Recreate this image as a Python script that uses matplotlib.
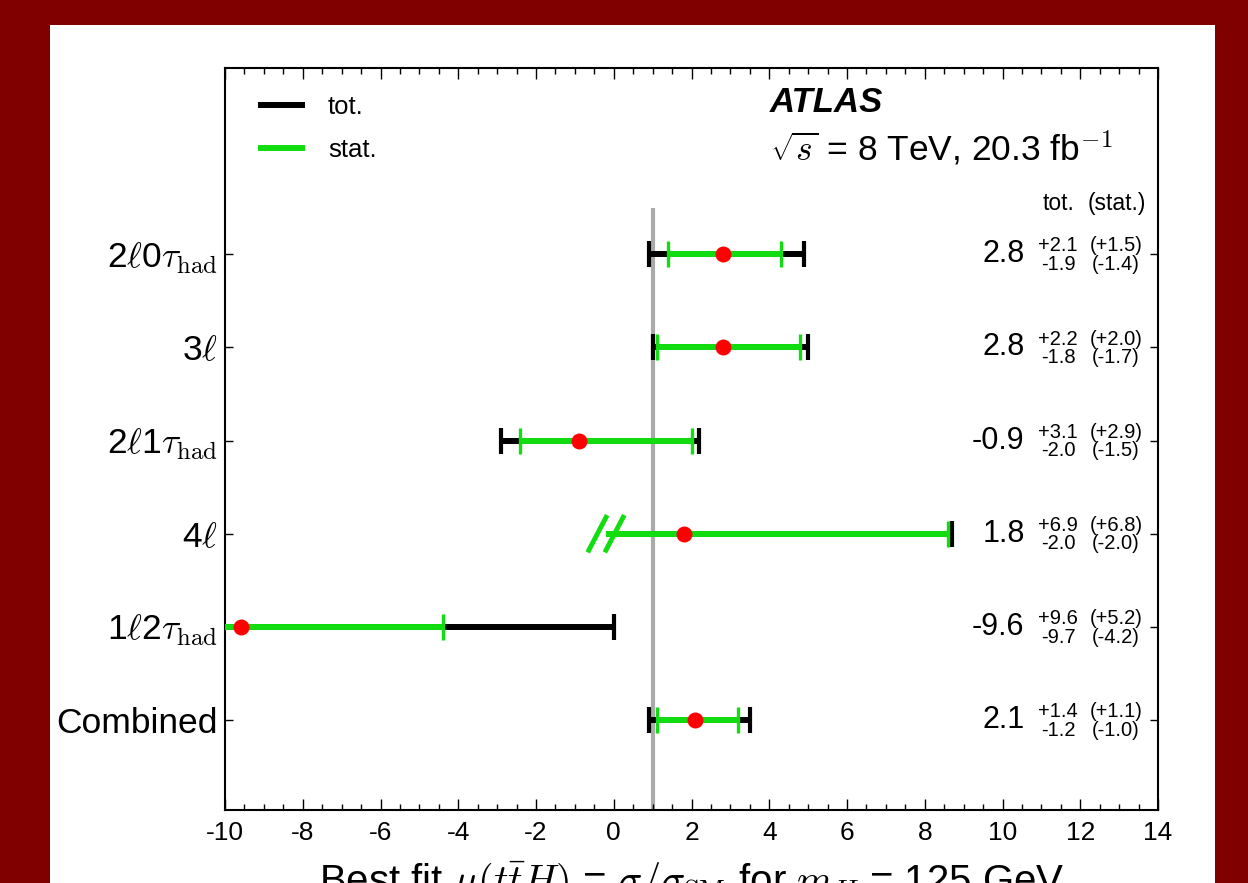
import matplotlib
matplotlib.use("Agg")
import matplotlib.pyplot as plt
from matplotlib.lines import Line2D
from matplotlib.patches import Rectangle
import matplotlib.transforms as mtransforms

plt.rcParams["font.family"] = ["Liberation Sans", "DejaVu Sans"]
plt.rcParams["mathtext.fontset"] = "cm"
plt.rcParams["axes.unicode_minus"] = False

# channels, top to bottom
labels = [r"2$\ell$0$\tau_{\rm had}$", r"3$\ell$", r"2$\ell$1$\tau_{\rm had}$",
          r"4$\ell$", r"1$\ell$2$\tau_{\rm had}$", "Combined"]
mu = [2.8, 2.8, -0.9, 1.8, -9.6, 2.1]
tot_up = [2.1, 2.2, 3.1, 6.9, 9.6, 1.4]
tot_dn = [1.9, 1.8, 2.0, 2.0, 9.7, 1.2]
stat_up = [1.5, 2.0, 2.9, 6.8, 5.2, 1.1]
stat_dn = [1.4, 1.7, 1.5, 2.0, 4.2, 1.0]
truncated_low = [False, False, False, True, False, False]
sm_value = 1.0

GREEN = "#11DD11"
RED = "#FF0000"

fig = plt.figure(figsize=(12.48, 8.83), dpi=100, facecolor="#800000")
fig.patches.append(Rectangle((50 / 1248, 0), 1165 / 1248, 858 / 883,
                             transform=fig.transFigure, facecolor="white",
                             edgecolor="none", zorder=-10))
ax = fig.add_axes([225 / 1248, 1 - 810 / 883, 933 / 1248, 742 / 883])
ax.set_zorder(1)

n = len(labels)
ypos = [n - i for i in range(n)]
cap = 0.14

ax.vlines(sm_value, 0, n + 0.5, color="#AAAAAA", lw=3, zorder=1)

tr = mtransforms.blended_transform_factory(ax.transAxes, ax.transData)
for i in range(n):
    y = ypos[i]
    tlo, thi = mu[i] - tot_dn[i], mu[i] + tot_up[i]
    slo, shi = mu[i] - stat_dn[i], mu[i] + stat_up[i]
    ax.hlines(y, tlo, thi, color="black", lw=4.3, zorder=2)
    ax.vlines(thi, y - cap, y + cap, color="black", lw=3, zorder=2)
    if not truncated_low[i]:
        ax.vlines(tlo, y - cap, y + cap, color="black", lw=3, zorder=2)
    ax.hlines(y, slo, shi, color=GREEN, lw=4.3, zorder=3)
    ax.vlines(shi, y - cap, y + cap, color=GREEN, lw=2.4, zorder=3)
    if truncated_low[i]:
        for off in (-0.22, 0.22):
            ax.plot([slo + off - 0.25, slo + off + 0.25], [y - 0.2, y + 0.2],
                    color=GREEN, lw=3.5, solid_capstyle="butt", zorder=3)
    else:
        ax.vlines(slo, y - cap, y + cap, color=GREEN, lw=2.4, zorder=3)
    ax.plot(mu[i], y, "o", color=RED, ms=11.5, mec="none", zorder=4)

    ax.text(0.857, y, f"{mu[i]:.1f}", transform=tr, ha="right", va="center", fontsize=22)
    ax.text(0.893, y + 0.09, f"+{tot_up[i]:.1f}", transform=tr, ha="center", va="center", fontsize=14.5)
    ax.text(0.893, y - 0.11, f"-{tot_dn[i]:.1f}", transform=tr, ha="center", va="center", fontsize=14.5)
    ax.text(0.955, y + 0.09, f"(+{stat_up[i]:.1f})", transform=tr, ha="center", va="center", fontsize=14.5)
    ax.text(0.955, y - 0.11, f"(-{stat_dn[i]:.1f})", transform=tr, ha="center", va="center", fontsize=14.5)

ax.text(0.893, n + 0.55, "tot.", transform=tr, ha="center", va="center", fontsize=16.5)
ax.text(0.956, n + 0.55, "(stat.)", transform=tr, ha="center", va="center", fontsize=16.5)

ax.text(0.584, 0.953, "ATLAS", transform=ax.transAxes, fontsize=25,
        fontweight="bold", fontstyle="italic", va="center")
ax.text(0.584, 0.892, r"$\sqrt{s}$ = 8 TeV, 20.3 fb$^{-1}$", transform=ax.transAxes,
        fontsize=25.5, va="center")

handles = [Line2D([], [], color="black", lw=4.3), Line2D([], [], color=GREEN, lw=4.3)]
ax.legend(handles, ["tot.", "stat."], loc="upper left", frameon=False, fontsize=18.5,
          handlelength=1.6, handletextpad=1.0, labelspacing=0.75,
          bbox_to_anchor=(0.014, 0.995))

ax.set_xlim(-10, 14)
ax.set_ylim(0.034, n + 2)
ax.set_xticks(range(-10, 15, 2))
ax.set_xticks([v * 0.5 for v in range(-20, 29)], minor=True)
ax.set_yticks(ypos)
ax.set_yticklabels(labels, fontsize=25.5)
ax.tick_params(axis="x", which="major", direction="in", top=True, length=8, width=1,
               labelsize=19, pad=8)
ax.tick_params(axis="x", which="minor", direction="in", top=True, length=4, width=1)
ax.tick_params(axis="y", direction="in", right=True, length=6, width=1, pad=5)
for s in ax.spines.values():
    s.set_linewidth(1.5)

ax.set_xlabel(r"Best fit $\mu(t\bar{t}H)$ = $\sigma/\sigma_{\rm SM}$ for $m_H$ = 125 GeV",
              fontsize=29, labelpad=10)

fig.savefig("out.png", dpi=100, facecolor=fig.get_facecolor())
